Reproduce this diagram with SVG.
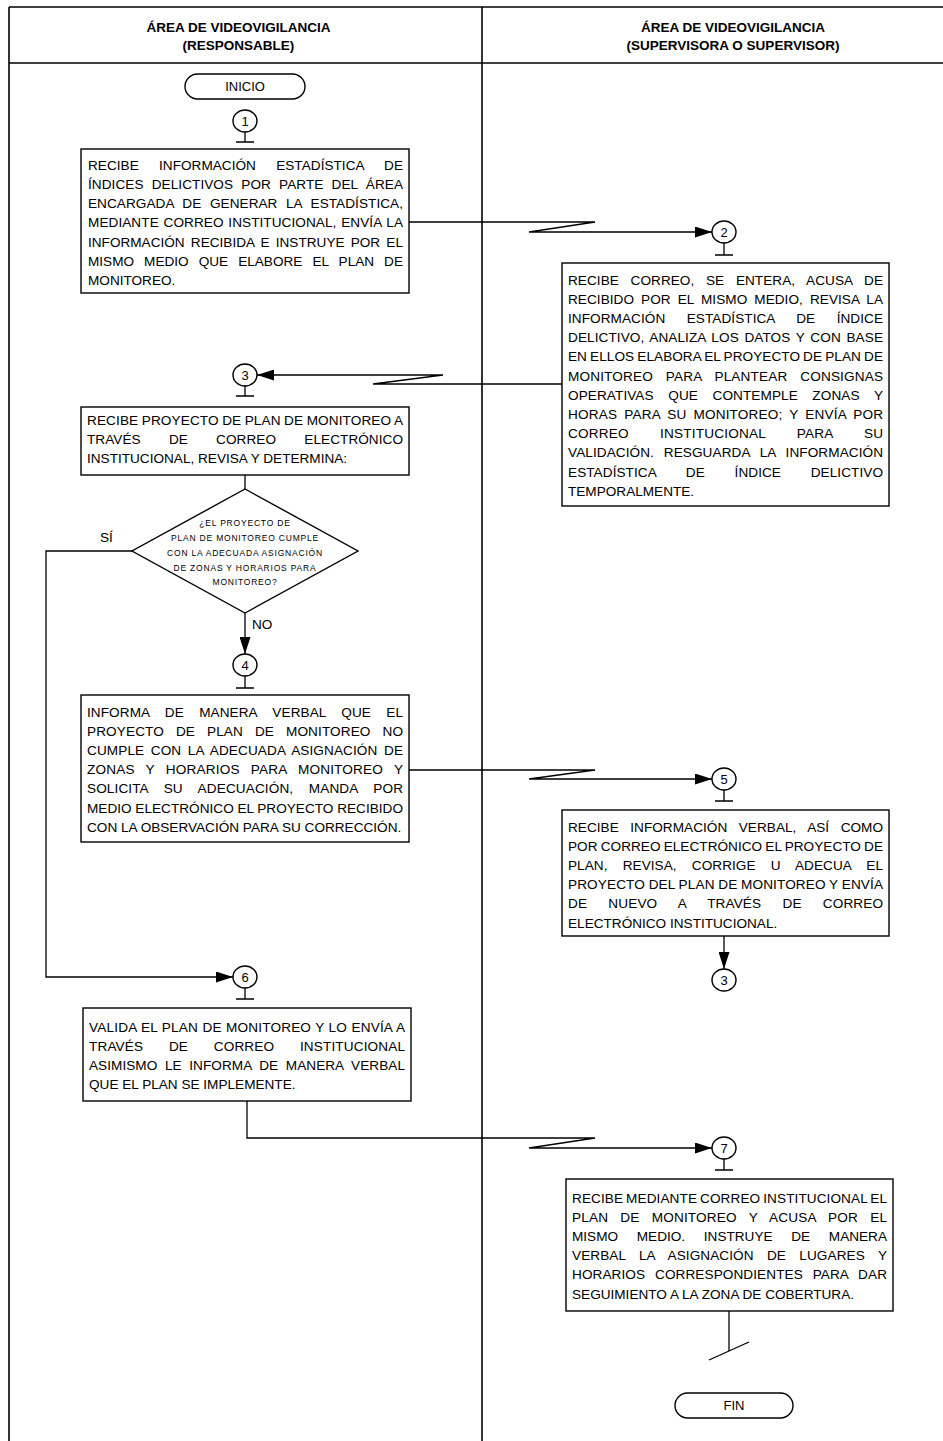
<svg xmlns="http://www.w3.org/2000/svg" width="943" height="1441" viewBox="0 0 943 1441">
<style>
.t{font-family:"Liberation Sans",Arial,sans-serif;font-size:13.6px;fill:#000}
.h{font-family:"Liberation Sans",Arial,sans-serif;font-size:13.5px;font-weight:bold;fill:#000;text-anchor:middle}
.d{font-family:"Liberation Sans",Arial,sans-serif;font-size:8.5px;letter-spacing:0.8px;fill:#000;text-anchor:middle}
.c{font-family:"Liberation Sans",Arial,sans-serif;font-size:13px;fill:#000;text-anchor:middle}
.box{fill:#fff;stroke:#000;stroke-width:1.4}
.ln{fill:none;stroke:#000;stroke-width:1.3}
.frame{fill:none;stroke:#000;stroke-width:1.6}
</style>
<defs>
<marker id="arr" markerWidth="17" markerHeight="11" refX="17" refY="5.5" orient="auto" markerUnits="userSpaceOnUse">
<path d="M0,0 L17,5.5 L0,11 z" fill="#000"/>
</marker>
</defs>
<rect width="943" height="1441" fill="#fff"/>
<g id="frame">
<line class="frame" x1="9" y1="7" x2="943" y2="7"/>
<line class="frame" x1="9" y1="63" x2="943" y2="63"/>
<line class="frame" x1="9" y1="7" x2="9" y2="1441"/>
<line class="frame" x1="482" y1="7" x2="482" y2="1441"/>
<text class="h" x="238.5" y="31.5">ÁREA DE VIDEOVIGILANCIA</text>
<text class="h" x="238.5" y="49.5">(RESPONSABLE)</text>
<text class="h" x="733" y="31.5">ÁREA DE VIDEOVIGILANCIA</text>
<text class="h" x="733" y="49.5">(SUPERVISORA O SUPERVISOR)</text>
</g>
<g id="connectors">
<path class="ln" d="M409,222 H595 L529,232 H712" marker-end="url(#arr)"/>
<path class="ln" d="M562,384 H373 L443,375 H257" marker-end="url(#arr)"/>
<path class="ln" d="M245,475 V489"/>
<path class="ln" d="M245,613 V654" marker-end="url(#arr)"/>
<path class="ln" d="M132,551 H46 V977 H233" marker-end="url(#arr)"/>
<path class="ln" d="M409,770 H595 L529,779 H712" marker-end="url(#arr)"/>
<path class="ln" d="M724,936 V969" marker-end="url(#arr)"/>
<path class="ln" d="M247,1101 V1138 H595 L529,1148 H712" marker-end="url(#arr)"/>
<path class="ln" d="M729,1311 V1351"/>
<path class="ln" d="M709,1360 L749,1342"/>
<text class="t" x="100" y="541.5" font-size="12">SÍ</text>
<text class="t" x="252" y="629" font-size="12">NO</text>
</g>
<g id="inicio">
<rect class="box" x="185" y="74" width="120" height="25" rx="12.5"/>
<text class="c" x="245" y="91">INICIO</text>
</g>
<g id="c1">
<ellipse class="box" cx="245" cy="121" rx="12" ry="11"/>
<text class="c" x="245" y="125.5">1</text>
<path class="ln" d="M245,132 V142 M236,142 H254"/>
</g>
<g id="step1">
<rect class="box" x="81" y="149" width="328" height="144"/>
<text class="t" x="88" y="169.5" word-spacing="16.4" textLength="315" lengthAdjust="spacing">RECIBE INFORMACIÓN ESTADÍSTICA DE</text>
<text class="t" x="88" y="188.8" word-spacing="4.3" textLength="315" lengthAdjust="spacing">ÍNDICES DELICTIVOS POR PARTE DEL ÁREA</text>
<text class="t" x="88" y="208.1" word-spacing="4.7" textLength="315" lengthAdjust="spacing">ENCARGADA DE GENERAR LA ESTADÍSTICA,</text>
<text class="t" x="88" y="227.4" word-spacing="0.9" textLength="315" lengthAdjust="spacing">MEDIANTE CORREO INSTITUCIONAL, ENVÍA LA</text>
<text class="t" x="88" y="246.7" word-spacing="2.4" textLength="315" lengthAdjust="spacing">INFORMACIÓN RECIBIDA E INSTRUYE POR EL</text>
<text class="t" x="88" y="266" word-spacing="6.3" textLength="315" lengthAdjust="spacing">MISMO MEDIO QUE ELABORE EL PLAN DE</text>
<text class="t" x="88" y="285.3">MONITOREO.</text>
</g>
<g id="c2">
<ellipse class="box" cx="724" cy="232" rx="12" ry="11"/>
<text class="c" x="724" y="236.5">2</text>
<path class="ln" d="M724,243 V255 M715,255 H733"/>
</g>
<g id="step2">
<rect class="box" x="562" y="263" width="327" height="243"/>
<text class="t" x="568" y="284.5" word-spacing="7.9" textLength="315" lengthAdjust="spacing">RECIBE CORREO, SE ENTERA, ACUSA DE</text>
<text class="t" x="568" y="303.7" word-spacing="3.2" textLength="315" lengthAdjust="spacing">RECIBIDO POR EL MISMO MEDIO, REVISA LA</text>
<text class="t" x="568" y="322.9" word-spacing="17.6" textLength="315" lengthAdjust="spacing">INFORMACIÓN ESTADÍSTICA DE ÍNDICE</text>
<text class="t" x="568" y="342.1" word-spacing="1.8" textLength="315" lengthAdjust="spacing">DELICTIVO, ANALIZA LOS DATOS Y CON BASE</text>
<text class="t" x="568" y="361.3" word-spacing="-0.7" textLength="315" lengthAdjust="spacing">EN ELLOS ELABORA EL PROYECTO DE PLAN DE</text>
<text class="t" x="568" y="380.5" word-spacing="8.9" textLength="315" lengthAdjust="spacing">MONITOREO PARA PLANTEAR CONSIGNAS</text>
<text class="t" x="568" y="399.7" word-spacing="10.7" textLength="315" lengthAdjust="spacing">OPERATIVAS QUE CONTEMPLE ZONAS Y</text>
<text class="t" x="568" y="418.9" word-spacing="3" textLength="315" lengthAdjust="spacing">HORAS PARA SU MONITOREO; Y ENVÍA POR</text>
<text class="t" x="568" y="438.1" word-spacing="27.3" textLength="315" lengthAdjust="spacing">CORREO INSTITUCIONAL PARA SU</text>
<text class="t" x="568" y="457.3" word-spacing="6" textLength="315" lengthAdjust="spacing">VALIDACIÓN. RESGUARDA LA INFORMACIÓN</text>
<text class="t" x="568" y="476.5" word-spacing="25.9" textLength="315" lengthAdjust="spacing">ESTADÍSTICA DE ÍNDICE DELICTIVO</text>
<text class="t" x="568" y="495.7">TEMPORALMENTE.</text>
</g>
<g id="c3">
<ellipse class="box" cx="245" cy="375" rx="12" ry="11"/>
<text class="c" x="245" y="379.5">3</text>
<path class="ln" d="M245,386 V396 M236,396 H254"/>
</g>
<g id="step3">
<rect class="box" x="81" y="407" width="328" height="68"/>
<text class="t" x="87" y="424.5" word-spacing="-0.45" textLength="316" lengthAdjust="spacing">RECIBE PROYECTO DE PLAN DE MONITOREO A</text>
<text class="t" x="87" y="443.8" word-spacing="24.4" textLength="316" lengthAdjust="spacing">TRAVÉS DE CORREO ELECTRÓNICO</text>
<text class="t" x="87" y="463.1">INSTITUCIONAL, REVISA Y DETERMINA:</text>
</g>
<g id="decision">
<polygon class="box" points="245,489 358,551 245,613 132,551"/>
<text class="d" x="245" y="526">¿EL PROYECTO DE</text>
<text class="d" x="245" y="541">PLAN DE MONITOREO CUMPLE</text>
<text class="d" x="245" y="556">CON LA ADECUADA ASIGNACIÓN</text>
<text class="d" x="245" y="570.5">DE ZONAS Y HORARIOS PARA</text>
<text class="d" x="245" y="585">MONITOREO?</text>
</g>
<g id="c4">
<ellipse class="box" cx="245" cy="665" rx="12" ry="11"/>
<text class="c" x="245" y="669.5">4</text>
<path class="ln" d="M245,676 V688 M236,688 H254"/>
</g>
<g id="step4">
<rect class="box" x="81" y="695" width="328" height="147"/>
<text class="t" x="87" y="716.5" word-spacing="11.5" textLength="316" lengthAdjust="spacing">INFORMA DE MANERA VERBAL QUE EL</text>
<text class="t" x="87" y="735.7" word-spacing="8.1" textLength="316" lengthAdjust="spacing">PROYECTO DE PLAN DE MONITOREO NO</text>
<text class="t" x="87" y="754.9" word-spacing="2.7" textLength="316" lengthAdjust="spacing">CUMPLE CON LA ADECUADA ASIGNACIÓN DE</text>
<text class="t" x="87" y="774.1" word-spacing="7.2" textLength="316" lengthAdjust="spacing">ZONAS Y HORARIOS PARA MONITOREO Y</text>
<text class="t" x="87" y="793.3" word-spacing="11.7" textLength="316" lengthAdjust="spacing">SOLICITA SU ADECUACIÓN, MANDA POR</text>
<text class="t" x="87" y="812.5" word-spacing="-0.1" textLength="316" lengthAdjust="spacing">MEDIO ELECTRÓNICO EL PROYECTO RECIBIDO</text>
<text class="t" x="87" y="831.7">CON LA OBSERVACIÓN PARA SU CORRECCIÓN.</text>
</g>
<g id="c5">
<ellipse class="box" cx="724" cy="779" rx="12" ry="11"/>
<text class="c" x="724" y="783.5">5</text>
<path class="ln" d="M724,790 V801 M715,801 H733"/>
</g>
<g id="step5">
<rect class="box" x="562" y="810" width="327" height="126"/>
<text class="t" x="568" y="831.5" word-spacing="7.7" textLength="315" lengthAdjust="spacing">RECIBE INFORMACIÓN VERBAL, ASÍ COMO</text>
<text class="t" x="568" y="850.7" word-spacing="-0.6" textLength="315" lengthAdjust="spacing">POR CORREO ELECTRÓNICO EL PROYECTO DE</text>
<text class="t" x="568" y="869.9" word-spacing="11.3" textLength="315" lengthAdjust="spacing">PLAN, REVISA, CORRIGE U ADECUA EL</text>
<text class="t" x="568" y="889.1" word-spacing="-0.2" textLength="315" lengthAdjust="spacing">PROYECTO DEL PLAN DE MONITOREO Y ENVÍA</text>
<text class="t" x="568" y="908.3" word-spacing="17.4" textLength="315" lengthAdjust="spacing">DE NUEVO A TRAVÉS DE CORREO</text>
<text class="t" x="568" y="927.5">ELECTRÓNICO INSTITUCIONAL.</text>
</g>
<g id="c3b">
<ellipse class="box" cx="724" cy="980" rx="12" ry="11"/>
<text class="c" x="724" y="984.5">3</text>
</g>
<g id="c6">
<ellipse class="box" cx="245" cy="977" rx="12" ry="11"/>
<text class="c" x="245" y="981.5">6</text>
<path class="ln" d="M245,988 V999 M236,999 H254"/>
</g>
<g id="step6">
<rect class="box" x="83" y="1008" width="328" height="93"/>
<text class="t" x="89" y="1031.5" word-spacing="0.4" textLength="316" lengthAdjust="spacing">VALIDA EL PLAN DE MONITOREO Y LO ENVÍA A</text>
<text class="t" x="89" y="1050.7" word-spacing="21.8" textLength="316" lengthAdjust="spacing">TRAVÉS DE CORREO INSTITUCIONAL</text>
<text class="t" x="89" y="1069.9" word-spacing="3.8" textLength="316" lengthAdjust="spacing">ASIMISMO LE INFORMA DE MANERA VERBAL</text>
<text class="t" x="89" y="1089.1">QUE EL PLAN SE IMPLEMENTE.</text>
</g>
<g id="c7">
<ellipse class="box" cx="724" cy="1148" rx="12" ry="11"/>
<text class="c" x="724" y="1152.5">7</text>
<path class="ln" d="M724,1159 V1170 M715,1170 H733"/>
</g>
<g id="step7">
<rect class="box" x="566" y="1179" width="327" height="132"/>
<text class="t" x="572" y="1202.5" word-spacing="-0.9" textLength="315" lengthAdjust="spacing">RECIBE MEDIANTE CORREO INSTITUCIONAL EL</text>
<text class="t" x="572" y="1221.7" word-spacing="8.2" textLength="315" lengthAdjust="spacing">PLAN DE MONITOREO Y ACUSA POR EL</text>
<text class="t" x="572" y="1240.9" word-spacing="14.9" textLength="315" lengthAdjust="spacing">MISMO MEDIO. INSTRUYE DE MANERA</text>
<text class="t" x="572" y="1260.1" word-spacing="9.5" textLength="315" lengthAdjust="spacing">VERBAL LA ASIGNACIÓN DE LUGARES Y</text>
<text class="t" x="572" y="1279.3" word-spacing="6" textLength="315" lengthAdjust="spacing">HORARIOS CORRESPONDIENTES PARA DAR</text>
<text class="t" x="572" y="1298.5">SEGUIMIENTO A LA ZONA DE COBERTURA.</text>
</g>
<g id="fin">
<rect class="box" x="675" y="1393" width="118" height="25" rx="12.5"/>
<text class="c" x="734" y="1410">FIN</text>
</g>
</svg>
